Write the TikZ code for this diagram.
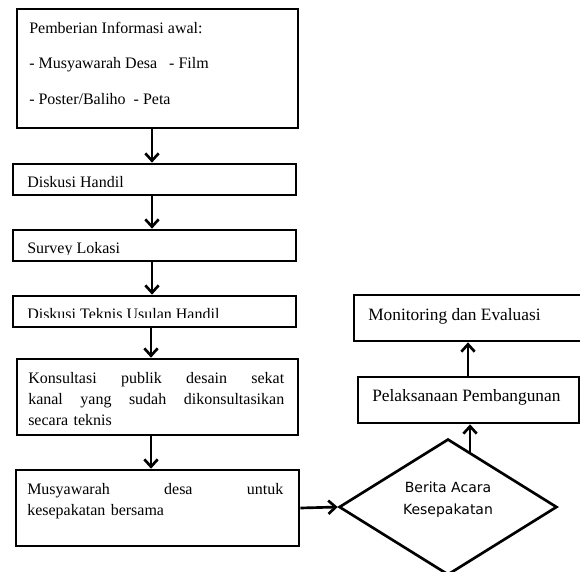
\documentclass[tikz,border=0pt]{standalone}
\usepackage{fontspec}
\setmainfont{Liberation Serif}
\newfontfamily\dejavu{DejaVu Sans}
\usepackage{tikz}
\usetikzlibrary{shapes.geometric,arrows.meta,calc}
\tolerance=10000
\hbadness=10000

\begin{document}
\begin{tikzpicture}[x=0.75pt,y=0.75pt,yscale=-1,xscale=1,
  box/.style={draw, line width=2pt, rectangle, inner sep=0pt},
  txt/.style={inner sep=0pt, anchor=base west, font=\fontsize{12}{15.75}\selectfont},
  rtxt/.style={inner sep=0pt, anchor=base west, font=\fontsize{13}{16}\selectfont},
  dtxt/.style={inner sep=0pt, align=center, font=\dejavu\fontsize{10.5}{16.5}\selectfont},
  flow/.style={line width=2pt, -{Straight Barb[length=5.5pt,width=10pt]}}]
\useasboundingbox (0,0) rectangle (580,571);

%Boxes left column
\node[box, minimum width=210.75pt, minimum height=89.25pt] (info) at (157.5,68.5) {};
\node[box, minimum width=212.25pt, minimum height=23.25pt] (handil) at (154.5,179.5) {};
\node[box, minimum width=212.25pt, minimum height=23.25pt] (survey) at (154.5,245.5) {};
\node[box, minimum width=212.25pt, minimum height=23.25pt] (teknis) at (154.5,311.5) {};
\node[box, minimum width=210.75pt, minimum height=57pt] (konsul) at (157.5,397) {};
\node[box, minimum width=212.25pt, minimum height=57pt] (musy) at (157.5,508) {};
%Right column
\node[draw, diamond, aspect=1.6, line width=2pt, inner sep=0pt, minimum width=163.5pt, minimum height=102pt] (berita) at (448,507) {};
\node[box, minimum width=165.75pt, minimum height=34.5pt] (pelak) at (468.5,400) {};
\node[box, minimum width=177pt, minimum height=34.5pt] (monev) at (472,318) {};

% Text Node
\node[txt] (infoa) at (29,33) {Pemberian Informasi awal:};
\node[txt] (infob) at (29,68) {- Musyawarah Desa~~~- Film};
\node[txt] (infoc) at (29,104) {- Poster/Baliho~~- Peta};
\node[txt] (handilt) at (27,187) {Diskusi Handil};
\begin{scope}
\clip (survey.north west) rectangle (survey.east |- 0,254);
\node[txt] (surveyt) at (27,253.5) {Survey Lokasi};
\end{scope}
\begin{scope}
\clip (teknis.north west) rectangle (teknis.east |- 0,317.5);
\node[txt] (teknist) at (27,319) {Diskusi Teknis Usulan Handil};
\end{scope}
\node[txt, text width=192pt] (konsult) at (28,383) {Konsultasi\hfill publik\hfill desain\hfill sekat\\kanal\hfill yang\hfill sudah\hfill dikonsultasikan\\secara teknis};
\node[txt, text width=192pt] (musyt) at (27,494) {Musyawarah\hfill desa\hfill untuk\\kesepakatan bersama};
\node[dtxt] (beritat) at (448,500) {Berita Acara\\Kesepakatan};
\node[rtxt] (pelakt) at (372,401) {Pelaksanaan Pembangunan};
\node[rtxt] (monevt) at (368,320) {Monitoring dan Evaluasi};

%Arrows
\draw[flow] (info.south -| 152,0) -- (handil.north -| 152,0);
\draw[flow] (handil.south -| 152,0) -- (survey.north -| 152,0);
\draw[flow] (survey.south -| 152,0) -- (teknis.north -| 152,0);
\draw[flow] (teknis.south -| 151,0) -- (konsul.north -| 151,0);
\draw[flow] (konsul.south -| 151,0) -- (musy.north -| 151,0);
\draw[flow] (musy.east) -- (berita.west);
\coordinate (beritaout) at ($(berita.north)!0.2!(berita.east)$);
\draw[flow] (beritaout) -- (beritaout |- pelak.south);
\draw[flow] (pelak.north -| 468,0) -- (monev.south -| 468,0);

\end{tikzpicture}
\end{document}
